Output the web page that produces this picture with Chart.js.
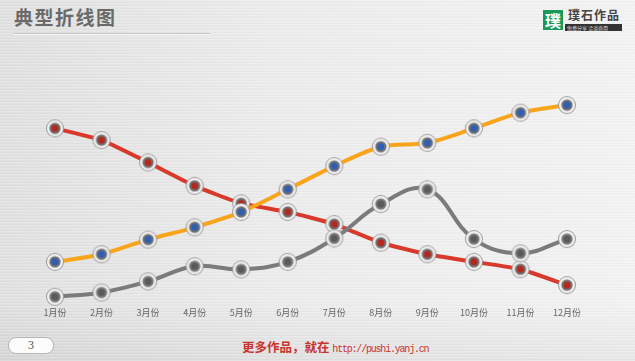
<!DOCTYPE html>
<html>
<head>
<meta charset="utf-8">
<script src="https://cdn.jsdelivr.net/npm/chart.js@4.4.0/dist/chart.umd.min.js"></script>
<style>
  html, body { margin: 0; padding: 0; }
  body {
    width: 635px; height: 361px; position: relative; overflow: hidden;
    background:
      repeating-linear-gradient(to bottom, rgba(255,255,255,0.18) 0px, rgba(255,255,255,0.18) 1px, rgba(0,0,0,0.015) 2px, rgba(0,0,0,0.015) 3px),
      linear-gradient(to bottom, rgba(0,0,0,0) 300px, rgba(0,0,0,0.05) 361px),
      linear-gradient(to right, #e0e0e0, #ececec 45%, #f3f3f3);
    font-family: "Noto Sans CJK SC", sans-serif;
  }
  #title {
    position: absolute; left: 14px; top: 3px;
    font-size: 19px; font-weight: bold; color: #6a6a6a; letter-spacing: 1.5px;
  }
  #titleLine {
    position: absolute; left: 14px; top: 33px; width: 196px; height: 1px;
    background: #c4c4c4; border-bottom: 1px solid #fafafa;
  }
  #logoBox {
    position: absolute; left: 543px; top: 10px; width: 20px; height: 20px;
    background: #1a9a5a; color: #fff; font-size: 16px; font-weight: bold;
    line-height: 20px; text-align: center;
  }
  #logoText {
    position: absolute; left: 568px; top: 6px; font-size: 12px; font-weight: bold; color: #444;
    letter-spacing: 1px;
  }
  #logoBar {
    position: absolute; left: 565px; top: 24px; width: 55px; height: 7px;
    background: #333; color: #ddd; font-size: 5px; line-height: 7px; padding-left: 2px;
  }
  #pageNum {
    position: absolute; left: 8px; top: 337px; width: 44px; height: 15px;
    border: 1px solid #b5b5b5; border-radius: 8px; background: #fcfcfc;
    text-align: center; font-family: "Liberation Serif", serif; font-size: 12px; line-height: 15px; color: #555;
  }
  #footer {
    position: absolute; left: 242px; top: 337px; color: #c8352c; font-size: 12.5px; font-weight: bold; white-space: nowrap;
  }
  #footer span { font-family: "Liberation Mono", monospace; font-size: 10px; font-weight: normal; letter-spacing: -1.2px; }
  canvas { position: absolute; left: 0; top: 0; }
</style>
</head>
<body>
<div id="title">典型折线图</div>
<div id="titleLine"></div>
<div id="logoBox">璞</div>
<div id="logoText">璞石作品</div>
<div id="logoBar">免费分享 洽谈商用</div>
<div id="pageNum">3</div>
<div id="footer">更多作品，就在 <span>http://pushi.yanj.cn</span></div>
<canvas id="js--chart" width="635" height="361"></canvas>
<script>
const months = ["1月份", "2月份", "3月份", "4月份", "5月份", "6月份", "7月份", "8月份", "9月份", "10月份", "11月份", "12月份"];
const redValues = [79.0, 73.9, 64.2, 54.0, 46.4, 42.7, 37.4, 29.3, 24.3, 21.0, 17.8, 10.9];
const orangeValues = [21.0, 24.3, 30.7, 36.0, 42.7, 52.5, 62.6, 71.0, 72.7, 79.0, 85.8, 89.1];
const grayValues = [5.8, 7.7, 12.5, 19.1, 17.7, 21.0, 31.2, 46.1, 52.5, 30.9, 24.7, 30.9];

function makeMarker(centerColor, ringColor){
    const c = document.createElement("canvas");
    c.width = 20; c.height = 20;
    const ctx = c.getContext("2d");
    function circle(r, color){
        ctx.beginPath();
        ctx.arc(10, 10, r, 0, Math.PI * 2);
        ctx.fillStyle = color;
        ctx.fill();
    }
    circle(9, "#9a9a9a");
    circle(8, "#f4f4f4");
    circle(6.5, "#dcdcdc");
    circle(5.5, ringColor);
    circle(3.5, centerColor);
    return c;
}

const redMarker = makeMarker("#b3291f", "#707070");
const blueMarker = makeMarker("#2f5fb3", "#707070");
const grayMarker = makeMarker("#5a5a5a", "#7a7a7a");

const data = {
    labels: months,
    datasets: [
        {
            label: "gray",
            data: grayValues,
            borderColor: "#7b7b7b",
            borderWidth: 4,
            tension: 0.4,
            pointStyle: grayMarker,
            pointRadius: 10
        },
        {
            label: "orange",
            data: orangeValues,
            borderColor: "#f8a51b",
            borderWidth: 4,
            tension: 0.3,
            pointStyle: blueMarker,
            pointRadius: 10
        },
        {
            label: "red",
            data: redValues,
            borderColor: "#d8392b",
            borderWidth: 4,
            tension: 0.15,
            pointStyle: redMarker,
            pointRadius: 10
        }
    ]
};

const config = {
    type: "line",
    data: data,
    options: {
        responsive: false,
        animation: false,
        clip: false,
        layout: { padding: { left: 55, right: 68, top: 80, bottom: 39 } },
        plugins: { legend: { display: false }, tooltip: { enabled: false } },
        scales: {
            x: {
                offset: false,
                grid: { display: false },
                border: { display: false },
                ticks: { color: "#666", font: { size: 9, family: "Noto Sans CJK SC" }, padding: 4, maxRotation: 0 }
            },
            y: {
                display: false,
                min: 6.5,
                max: 100
            }
        }
    }
};

const chart = new Chart(document.getElementById("js--chart"), config);
</script>
</body>
</html>
